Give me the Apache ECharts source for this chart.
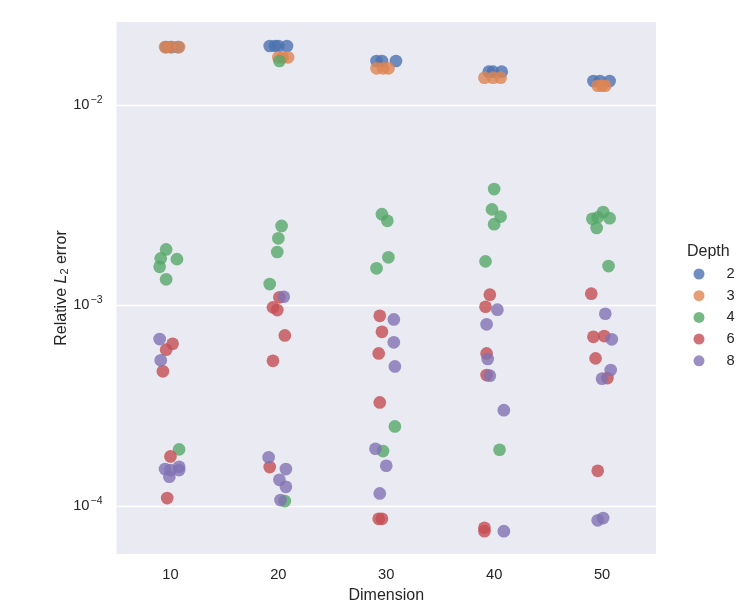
<!DOCTYPE html>
<html>
<head>
<meta charset="utf-8">
<script src="https://cdn.jsdelivr.net/npm/echarts@6/dist/echarts.min.js"></script>
<style>
  html, body { margin: 0; padding: 0; background: #fff; }
  #chart { width: 748px; height: 611px; }
</style>
</head>
<body>
<div id="chart"></div>
<script>
// x categories
const dims = ['10', '20', '30', '40', '50'];
const depths = ['2', '3', '4', '6', '8'];
const colors = ['#4c72b0', '#dd8452', '#55a868', '#c44e52', '#8172b3'];

// each point: [category index, jitter, relative L2 error]
const depth2 = [
    [0, -0.04, 0.0194], [0, 0.01, 0.0194], [0, 0.07, 0.0194],
    [1, -0.08, 0.01965], [1, -0.03, 0.01965], [1, 0.00, 0.01965], [1, 0.08, 0.01965],
    [2, -0.09, 0.01654], [2, -0.04, 0.01654], [2, 0.09, 0.01654],
    [3, -0.05, 0.01463], [3, -0.01, 0.01463], [3, 0.07, 0.01463],
    [4, -0.08, 0.01314], [4, -0.02, 0.01314], [4, 0.07, 0.01314]
];
const depth3 = [
    [0, -0.05, 0.0194], [0, 0.00, 0.0194], [0, 0.08, 0.0194],
    [1, 0.00, 0.01726], [1, 0.04, 0.01726], [1, 0.09, 0.01726],
    [2, -0.09, 0.0152], [2, -0.03, 0.0152], [2, 0.02, 0.0152],
    [3, -0.09, 0.01365], [3, -0.01, 0.01365], [3, 0.06, 0.01365],
    [4, -0.04, 0.01245], [4, 0.00, 0.01245], [4, 0.03, 0.01245]
];
const depth4 = [
    [0, -0.04, 1.90e-3], [0, -0.09, 1.715e-3], [0, 0.06, 1.70e-3], [0, -0.10, 1.557e-3], [0, -0.04, 1.348e-3], [0, 0.08, 1.913e-4],
    [1, 0.01, 0.01654], [1, 0.03, 2.49e-3], [1, 0.00, 2.16e-3], [1, -0.01, 1.845e-3], [1, -0.08, 1.277e-3], [1, 0.06, 1.057e-4],
    [2, -0.04, 2.85e-3], [2, 0.01, 2.64e-3], [2, 0.02, 1.735e-3], [2, -0.09, 1.53e-3], [2, 0.08, 2.49e-4], [2, -0.03, 1.876e-4],
    [3, 0.00, 3.80e-3], [3, -0.02, 3.01e-3], [3, 0.06, 2.77e-3], [3, 0.00, 2.54e-3], [3, -0.08, 1.657e-3], [3, 0.05, 1.905e-4],
    [4, 0.01, 2.92e-3], [4, -0.09, 2.70e-3], [4, -0.04, 2.75e-3], [4, 0.07, 2.72e-3], [4, -0.05, 2.43e-3], [4, 0.06, 1.57e-3]
];
const depth6 = [
    [0, 0.02, 6.43e-4], [0, -0.04, 6.01e-4], [0, -0.07, 4.69e-4], [0, 0.00, 1.765e-4], [0, -0.03, 1.094e-4],
    [1, 0.01, 1.096e-3], [1, -0.05, 9.77e-4], [1, -0.01, 9.47e-4], [1, 0.06, 7.08e-4], [1, -0.05, 5.29e-4], [1, -0.08, 1.561e-4],
    [2, -0.06, 8.87e-4], [2, -0.04, 7.38e-4], [2, -0.07, 5.76e-4], [2, -0.06, 3.28e-4], [2, -0.07, 8.62e-5], [2, -0.04, 8.62e-5],
    [3, -0.04, 1.13e-3], [3, -0.08, 9.84e-4], [3, -0.07, 5.76e-4], [3, -0.07, 4.49e-4], [3, -0.09, 7.78e-5], [3, -0.09, 7.48e-5],
    [4, -0.10, 1.143e-3], [4, -0.08, 6.97e-4], [4, 0.02, 7.03e-4], [4, -0.06, 5.44e-4], [4, 0.05, 4.34e-4], [4, -0.04, 1.496e-4]
];
const depth8 = [
    [0, -0.10, 6.79e-4], [0, -0.09, 5.32e-4], [0, -0.05, 1.526e-4], [0, 0.00, 1.509e-4], [0, 0.08, 1.567e-4], [0, 0.08, 1.509e-4], [0, -0.01, 1.397e-4],
    [1, 0.05, 1.104e-3], [1, -0.09, 1.746e-4], [1, 0.07, 1.526e-4], [1, 0.01, 1.349e-4], [1, 0.07, 1.245e-4], [1, 0.02, 1.069e-4],
    [2, 0.07, 8.51e-4], [2, 0.07, 6.54e-4], [2, 0.08, 4.96e-4], [2, -0.10, 1.927e-4], [2, 0.00, 1.585e-4], [2, -0.06, 1.154e-4],
    [3, 0.03, 9.51e-4], [3, -0.07, 8.04e-4], [3, -0.06, 5.40e-4], [3, -0.04, 4.46e-4], [3, 0.09, 3.00e-4], [3, 0.09, 7.48e-5],
    [4, 0.03, 9.08e-4], [4, 0.09, 6.77e-4], [4, 0.08, 4.76e-4], [4, 0.00, 4.31e-4], [4, -0.04, 8.47e-5], [4, 0.01, 8.69e-5]
];
const allDepths = [depth2, depth3, depth4, depth6, depth8];

const font = '"Liberation Sans", Arial, sans-serif';
const ink = '#262626';

let chart = echarts.init(document.getElementById('chart'), null, { renderer: 'canvas' });

let series = allDepths.map(function (pts, i) {
    return {
        name: depths[i],
        type: 'scatter',
        symbol: 'circle',
        symbolSize: 12.7,
        itemStyle: { color: colors[i], opacity: 0.8 },
        emphasis: { disabled: true },
        data: pts.map(function (p) { return [p[0] + p[1], p[2]]; })
    };
});

let option = {
    backgroundColor: '#ffffff',
    animation: false,
    textStyle: { fontFamily: font, color: ink },
    title: {
        text: 'Depth',
        left: 682,
        top: 239,
        textStyle: { fontFamily: font, fontSize: 16, fontWeight: 'normal', color: ink }
    },
    legend: {
        data: depths,
        orient: 'vertical',
        left: 688.5,
        top: 261.5,
        icon: 'circle',
        itemWidth: 11,
        itemHeight: 11,
        itemGap: 6.7,
        textStyle: { fontFamily: font, fontSize: 14.7, color: ink, padding: [0, 0, 0, 17] }
    },
    grid: {
        left: 116.5,
        right: 92,
        top: 22,
        bottom: 57,
        show: true,
        backgroundColor: '#eaeaf2',
        borderWidth: 0
    },
    xAxis: {
        type: 'value',
        min: -0.5,
        max: 4.5,
        interval: 0.5,
        name: 'Dimension',
        nameLocation: 'middle',
        nameGap: 34,
        nameMoveOverlap: false,
        nameTextStyle: { fontFamily: font, fontSize: 16, color: ink },
        axisLine: { show: false },
        axisTick: { show: false },
        splitLine: { show: false },
        axisLabel: {
            margin: 13,
            fontFamily: font,
            fontSize: 14.7,
            color: ink,
            formatter: function (v) {
                let k = Math.round(v * 2);
                return (k % 2 === 0) ? dims[k / 2] : '';
            }
        }
    },
    yAxis: {
        type: 'log',
        logBase: 10,
        min: Math.pow(10, -4.24),
        max: Math.pow(10, -1.587),
        name: 'Relative {i|L}{sub|2} error',
        nameLocation: 'middle',
        nameGap: 46,
        nameMoveOverlap: false,
        nameRotate: 90,
        nameTextStyle: {
            fontFamily: font, fontSize: 16, color: ink,
            rich: {
                i: { fontFamily: font, fontSize: 16, fontStyle: 'italic', color: ink },
                sub: { fontFamily: font, fontSize: 11, color: ink, padding: [7, 0, 0, 0] }
            }
        },
        axisLine: { show: false },
        axisTick: { show: false },
        minorTick: { show: false },
        splitLine: {
            show: true,
            showMinLine: false,
            showMaxLine: false,
            lineStyle: { color: '#ffffff', width: 1.3 }
        },
        axisLabel: {
            margin: 14,
            showMinLabel: false,
            showMaxLabel: false,
            fontFamily: font,
            color: ink,
            formatter: function (v) {
                let e = Math.round(Math.log10(v));
                return '{b|10}{s|\u2212' + Math.abs(e) + '}';
            },
            rich: {
                b: { fontFamily: font, fontSize: 14.7, color: ink },
                s: { fontFamily: font, fontSize: 10.5, color: ink, padding: [0, 0, 10, 1] }
            }
        }
    },
    series: series
};

chart.setOption(option);
</script>
</body>
</html>
